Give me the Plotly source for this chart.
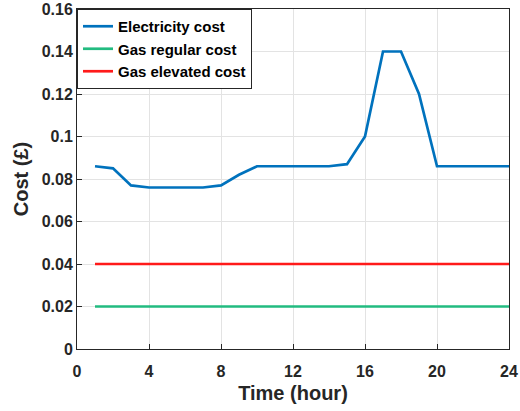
import plotly.graph_objects as go

hours = list(range(1, 25))
electricity = [0.086, 0.085, 0.077, 0.076, 0.076, 0.076, 0.076, 0.077, 0.082, 0.086,
               0.086, 0.086, 0.086, 0.086, 0.087, 0.100, 0.140, 0.140, 0.120, 0.086,
               0.086, 0.086, 0.086, 0.086]
gas_regular = [0.02] * 24
gas_elevated = [0.04] * 24

x_ticks = [0, 4, 8, 12, 16, 20, 24]
y_ticks = [0, 0.02, 0.04, 0.06, 0.08, 0.1, 0.12, 0.14, 0.16]
y_ticklabels = ["0", "0.02", "0.04", "0.06", "0.08", "0.1", "0.12", "0.14", "0.16"]

fig = go.Figure()
fig.add_trace(go.Scatter(x=hours, y=electricity, mode="lines", name="<b>Electricity cost</b>",
                         line=dict(color="#0072BD", width=2.7)))
fig.add_trace(go.Scatter(x=hours, y=gas_regular, mode="lines", name="<b>Gas regular cost</b>",
                         line=dict(color="#22BB80", width=2.7)))
fig.add_trace(go.Scatter(x=hours, y=gas_elevated, mode="lines", name="<b>Gas elevated cost</b>",
                         line=dict(color="#FF1A1A", width=2.7)))

axis_common = dict(showline=True, linecolor="#262626", linewidth=1, mirror=True,
                   ticks="inside", ticklen=5, tickcolor="#262626", automargin=False,
                   ticklabeloverflow="allow",
                   showgrid=True, gridcolor="#E3E3E3", gridwidth=1, zeroline=False,
                   tickfont=dict(family="Liberation Sans", size=16, color="#262626"))

fig.update_layout(
    width=520, height=411,
    margin=dict(l=77, r=11, t=9, b=62),
    paper_bgcolor="white", plot_bgcolor="white",
    font=dict(family="Liberation Sans", color="#262626"),
    xaxis=dict(range=[0, 24], tickvals=x_ticks,
               ticktext=[f"<b>{t}</b>" for t in x_ticks],
               ticklabelstandoff=8,
               title=dict(text="<b>Time (hour)</b>", font=dict(size=20), standoff=6),
               **axis_common),
    yaxis=dict(range=[0, 0.16], tickvals=y_ticks,
               ticktext=[f"<b>{t}</b>" for t in y_ticklabels],
               title=dict(text="<b>Cost (£)</b>", font=dict(size=20), standoff=7),
               **axis_common),
    legend=dict(x=0, y=1, xanchor="left", yanchor="top",
                bgcolor="white", bordercolor="#262626", borderwidth=1,
                font=dict(size=15, color="black"), itemwidth=30,
                tracegroupgap=0),
    showlegend=True,
)

fig.write_html("out.html", config={"displayModeBar": False},
               post_script="document.body.style.margin='0';")
